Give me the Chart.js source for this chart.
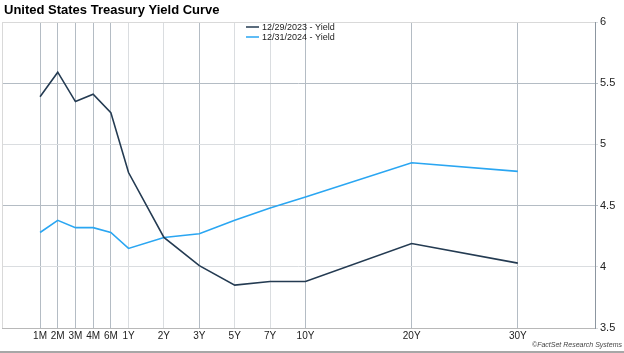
<!DOCTYPE html>
<html><head><meta charset="utf-8">
<script src="https://cdn.jsdelivr.net/npm/chart.js@4/dist/chart.umd.min.js"></script>
<style>html,body{margin:0;padding:0;background:#fff}#wrap{width:624px;height:353px;position:relative}</style>
</head><body><div id="wrap"><canvas id="c" width="624" height="353"></canvas></div>
<script>
const maturities = ['1M','2M','3M','4M','6M','1Y','2Y','3Y','5Y','7Y','10Y','20Y','30Y'];
const positions = [0,1,2,3,4,5,7,9,11,13,15,21,27];
const yield2023 = [5.39,5.59,5.35,5.41,5.26,4.77,4.24,4.01,3.85,3.88,3.88,4.19,4.03];
const yield2024 = [4.28,4.38,4.32,4.32,4.28,4.15,4.24,4.27,4.38,4.48,4.57,4.85,4.78];
const yTicks = [3.5,4,4.5,5,5.5,6];
const seriesNames = ['12/29/2023 - Yield','12/31/2024 - Yield'];
const colors = ['#243b52','#2aa6f2'];

const darkX = new Set(['1M','2M','3M','4M','6M','3Y','10Y','20Y','30Y']);

const overlay = {
  id:'overlay',
  afterDraw(chart){
    const ctx = chart.ctx;
    ctx.save();
    ctx.fillStyle = '#000';
    ctx.font = 'bold 13px "Liberation Sans", Arial, sans-serif';
    ctx.textBaseline = 'middle';
    ctx.fillText('United States Treasury Yield Curve', 4, 10);
    // legend
    ctx.font = '9px "Liberation Sans", Arial, sans-serif';
    const lx = 246, ly = [27, 37];
    for (let i=0;i<2;i++){
      ctx.strokeStyle = colors[i]; ctx.lineWidth = 1.5;
      ctx.beginPath(); ctx.moveTo(lx, ly[i]); ctx.lineTo(lx+13, ly[i]); ctx.stroke();
      ctx.fillStyle = '#222';
      ctx.fillText(seriesNames[i], lx+16, ly[i]+0.5);
    }
    // footer
    ctx.font = 'italic 7px "Liberation Sans", Arial, sans-serif';
    ctx.fillStyle = '#444';
    ctx.textAlign = 'right';
    ctx.fillText('\u00A9FactSet Research Systems', 622, 345);
    // bottom frame line
    ctx.strokeStyle = '#8a8a8a'; ctx.lineWidth = 1.5;
    ctx.beginPath(); ctx.moveTo(0, 352); ctx.lineTo(624, 352); ctx.stroke();
    // plot frame top/left
    const a = chart.chartArea;
    ctx.strokeStyle = '#d9d9d9'; ctx.lineWidth = 1;
    ctx.beginPath(); ctx.moveTo(a.left, a.top+0.5); ctx.lineTo(a.right, a.top+0.5); ctx.stroke();
    ctx.beginPath(); ctx.moveTo(a.left+0.5, a.top); ctx.lineTo(a.left+0.5, a.bottom); ctx.stroke();
    ctx.restore();
  }
};

new Chart(document.getElementById('c'), {
  type:'line',
  data:{
    datasets:[
      {label:seriesNames[0], data:positions.map((p,i)=>({x:p,y:yield2023[i]})), borderColor:colors[0], borderWidth:1.6, pointRadius:0, tension:0, fill:false},
      {label:seriesNames[1], data:positions.map((p,i)=>({x:p,y:yield2024[i]})), borderColor:colors[1], borderWidth:1.6, pointRadius:0, tension:0, fill:false}
    ]
  },
  options:{
    responsive:false, animation:false,
    layout:{padding:{left:2, top:22, right:0, bottom:0}},
    plugins:{legend:{display:false}, title:{display:false}, tooltip:{enabled:false}},
    scales:{
      x:{
        type:'linear', min:-2.15, max:31.36,
        afterBuildTicks(s){ s.ticks = positions.map(v=>({value:v})); },
        afterFit(s){ s.height = 25; },
        ticks:{
          autoSkip:false, maxRotation:0, padding:2, color:'#222',
          font:{family:'"Liberation Sans", Arial, sans-serif', size:10},
          callback(v){ const i = positions.indexOf(v); return i>=0 ? maturities[i] : ''; }
        },
        grid:{
          drawTicks:false,
          color(ctx){ const i = positions.indexOf(ctx.tick && ctx.tick.value); return (i>=0 && darkX.has(maturities[i])) ? '#b4bcc4' : '#dadde0'; },
          lineWidth:1
        },
        border:{display:true, color:'#b8b8b8'}
      },
      y:{
        position:'right', min:3.5, max:6,
        afterBuildTicks(s){ s.ticks = yTicks.map(v=>({value:v})); },
        afterFit(s){ s.width = 29; },
        ticks:{
          padding:2, color:'#222',
          font:{family:'"Liberation Sans", Arial, sans-serif', size:11},
          callback(v){ return String(v); }
        },
        grid:{
          tickLength:3,
          color(ctx){ const v = ctx.tick && ctx.tick.value; return (v===4.5||v===5.5) ? '#b4bcc4' : '#dadde0'; },
          lineWidth:1
        },
        border:{display:true, color:'#8c96a0'}
      }
    }
  },
  plugins:[overlay]
});
</script></body></html>
